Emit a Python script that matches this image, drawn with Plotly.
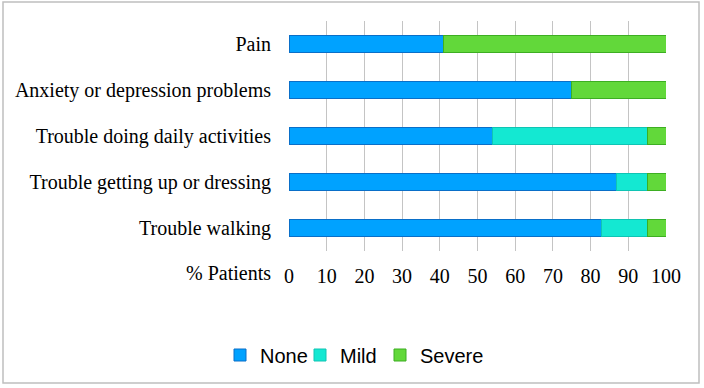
import plotly.graph_objects as go

categories = ["Pain", "Anxiety or depression problems", "Trouble doing daily activities",
              "Trouble getting up or dressing", "Trouble walking"]
none_vals = [41, 75, 54, 87, 83]
mild_vals = [0, 0, 41, 8, 12]
severe_vals = [59, 25, 5, 5, 5]
tick_vals = [0, 10, 20, 30, 40, 50, 60, 70, 80, 90, 100]

W, H = 704, 388
L, R, T, B = 289, 666, 21, 251

fig = go.Figure()
series = [
    ("None", none_vals, "#00A2FF", "#0A6FC8"),
    ("Mild", mild_vals, "#14E8D2", "#10C4B4"),
    ("Severe", severe_vals, "#62D83A", "#3DAE22"),
]
for name, vals, fill, edge in series:
    fig.add_trace(go.Bar(
        y=categories, x=vals, name=name, orientation="h",
        marker=dict(color=fill, line=dict(color=edge, width=1)),
    ))
# spacer legend entry (transparent) so the last label is not clipped
fig.add_trace(go.Bar(y=[categories[0]], x=[0], name=" ", orientation="h", hoverinfo="skip",
                     marker=dict(color="rgba(0,0,0,0)", line=dict(width=0))))

def px_x(p):
    return (p - L) / (R - L)

def px_y(p):
    return (B - p) / (B - T)

fig.update_layout(
    width=W, height=H,
    margin=dict(l=L, r=W - R, t=T, b=H - B, pad=0),
    barmode="stack", bargap=0.61,
    plot_bgcolor="white", paper_bgcolor="white",
    font=dict(family="Liberation Serif", size=20, color="black"),
    xaxis=dict(range=[0, 100], tickvals=tick_vals, showgrid=True, gridcolor="#C4C4C4",
               gridwidth=1, zeroline=False, showline=False, ticklabelstandoff=11,
               tickfont=dict(family="Liberation Serif", size=20)),
    yaxis=dict(categoryorder="array", categoryarray=categories[::-1], showgrid=False,
               zeroline=False, showline=False, ticklabelstandoff=17,
               tickfont=dict(family="Liberation Serif", size=20)),
    legend=dict(orientation="h", x=px_x(380), xanchor="center", y=px_y(355), yanchor="middle",
                font=dict(family="Liberation Sans", size=20), traceorder="normal",
                itemwidth=30, entrywidth=35, entrywidthmode="pixels",
                bgcolor="rgba(0,0,0,0)"),
    showlegend=True,
)
fig.add_annotation(text="% Patients", xref="paper", yref="paper", x=px_x(273), y=px_y(273),
                   xanchor="right", yanchor="middle", showarrow=False,
                   font=dict(family="Liberation Serif", size=20))
fig.add_shape(type="rect", xref="paper", yref="paper", x0=px_x(3), x1=px_x(699),
              y0=px_y(383), y1=px_y(2), line=dict(color="#BFBFBF", width=1.5), layer="below")
fig.write_html("out.html", config={"displayModeBar": False},
               post_script="document.body.style.margin='0';document.body.style.overflow='hidden';")
